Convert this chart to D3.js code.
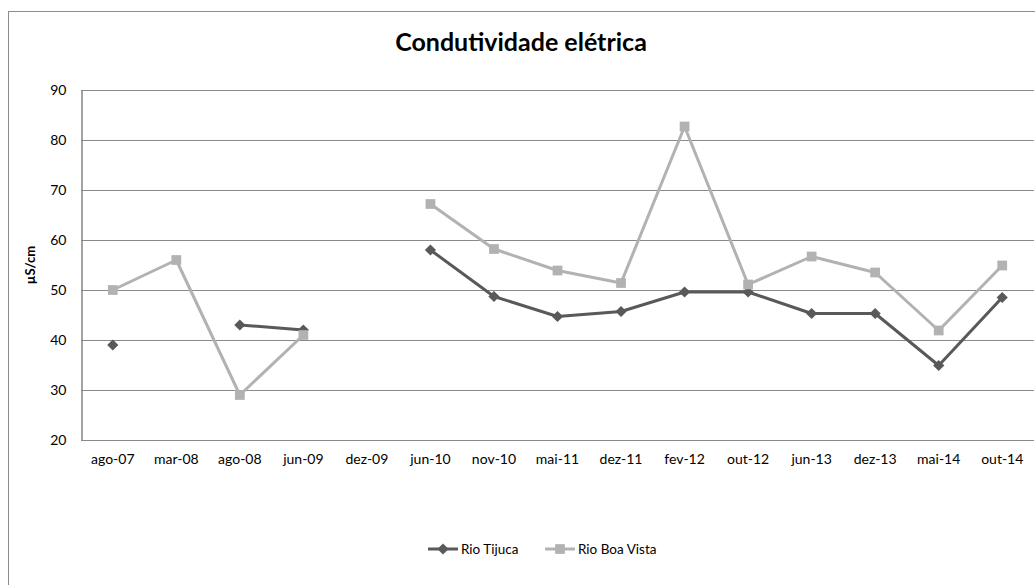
<!DOCTYPE html>
<html>
<head>
<meta charset="utf-8">
<script src="https://cdn.jsdelivr.net/npm/d3@7"></script>
<style>
  html, body { margin: 0; padding: 0; background: #fff; }
  svg { display: block; font-family: Lato, "Open Sans", "Liberation Sans", sans-serif; }
</style>
</head>
<body>
<svg id="chart" width="1035" height="585"></svg>
<script>
// Sampling dates
const categories = ["ago-07","mar-08","ago-08","jun-09","dez-09","jun-10","nov-10","mai-11",
                    "dez-11","fev-12","out-12","jun-13","dez-13","mai-14","out-14"];
// Electrical conductivity (µS/cm); null = no sample
const rioTijuca = [39, null, 43, 42, null, 58, 48.7, 44.7, 45.7, 49.6, 49.6, 45.3, 45.3, 34.9, 48.5];
const rioBoaVista = [50, 56, 29, 41, null, 67.2, 58.2, 53.9, 51.4, 82.7, 51.1, 56.7, 53.5, 41.9, 54.9];
const yTicks = [20, 30, 40, 50, 60, 70, 80, 90];

const series = [
  { name: "Rio Tijuca", values: rioTijuca, color: "#595959", symbol: d3.symbolDiamond2, size: 80 },
  { name: "Rio Boa Vista", values: rioBoaVista, color: "#b2b2b2", symbol: d3.symbolSquare2, size: 121 }
];

const svg = d3.select("#chart");
const W = 1035, H = 585;
const plot = { left: 81, right: 1034, top: 90, bottom: 440 };

// outer frame (extends past the window on the right and bottom)
svg.append("rect")
  .attr("x", 8.5).attr("y", 11.5)
  .attr("width", W + 10).attr("height", H + 10)
  .attr("fill", "none").attr("stroke", "#8c8c8c").attr("stroke-width", 1);

const x = d3.scaleBand().domain(categories).range([plot.left, plot.right]);
const y = d3.scaleLinear().domain([20, 90]).range([plot.bottom, plot.top]);

// horizontal gridlines
svg.append("g")
  .selectAll("line")
  .data(yTicks)
  .join("line")
  .attr("x1", plot.left).attr("x2", plot.right)
  .attr("y1", d => Math.round(y(d)) + 0.5).attr("y2", d => Math.round(y(d)) + 0.5)
  .attr("stroke", "#8a8a8a").attr("stroke-width", 1);

// y axis
const yAxis = svg.append("g")
  .attr("transform", `translate(${plot.left + 0.5},0.5)`)
  .call(d3.axisLeft(y).tickValues(yTicks).tickSize(0).tickPadding(15));
yAxis.select(".domain").attr("stroke", "#868686").attr("stroke-width", 1.5);
yAxis.selectAll("text").attr("font-size", 14).attr("fill", "#000")
  .style("font-family", "Lato, 'Open Sans', sans-serif");

// x axis labels
const xAxis = svg.append("g")
  .attr("transform", `translate(0,${plot.bottom})`)
  .call(d3.axisBottom(x).tickSize(0).tickPadding(14));
xAxis.select(".domain").remove();
xAxis.selectAll("text").attr("font-size", 14).attr("fill", "#000")
  .style("font-family", "Lato, 'Open Sans', sans-serif");

// series lines and markers
const line = d3.line()
  .defined(d => d != null)
  .x((d, i) => x(categories[i]) + x.bandwidth() / 2)
  .y(d => y(d));

series.forEach(s => {
  svg.append("path")
    .datum(s.values)
    .attr("fill", "none")
    .attr("stroke", s.color)
    .attr("stroke-width", 3)
    .attr("stroke-linejoin", "round")
    .attr("d", line);
  svg.append("g")
    .selectAll("path")
    .data(s.values.map((v, i) => ({ v, c: categories[i] })).filter(d => d.v != null))
    .join("path")
    .attr("d", d3.symbol().type(s.symbol).size(s.size))
    .attr("transform", d => `translate(${x(d.c) + x.bandwidth() / 2},${y(d.v)})`)
    .attr("fill", s.color);
});

// title
svg.append("text")
  .attr("x", 521).attr("y", 51)
  .attr("text-anchor", "middle")
  .attr("font-size", 25).attr("font-weight", "bold").attr("fill", "#000")
  .text("Condutividade elétrica");

// y axis title
svg.append("text")
  .attr("transform", `translate(35,265) rotate(-90)`)
  .attr("text-anchor", "middle")
  .attr("font-size", 13).attr("font-weight", "bold").attr("fill", "#000")
  .text("µS/cm");

// legend
const legend = svg.append("g").attr("transform", "translate(428,549)");
const legendX = [0, 117];
series.forEach((s, i) => {
  const g = legend.append("g").attr("transform", `translate(${legendX[i]},0)`);
  g.append("line").attr("x1", 0).attr("x2", 30).attr("y1", 0).attr("y2", 0)
    .attr("stroke", s.color).attr("stroke-width", 3);
  g.append("path").attr("d", d3.symbol().type(s.symbol).size(s.size))
    .attr("transform", "translate(15,0)").attr("fill", s.color);
  g.append("text").attr("x", 33).attr("y", 5)
    .attr("font-size", 13.5).attr("fill", "#000")
    .text(s.name);
});
</script>
</body>
</html>
